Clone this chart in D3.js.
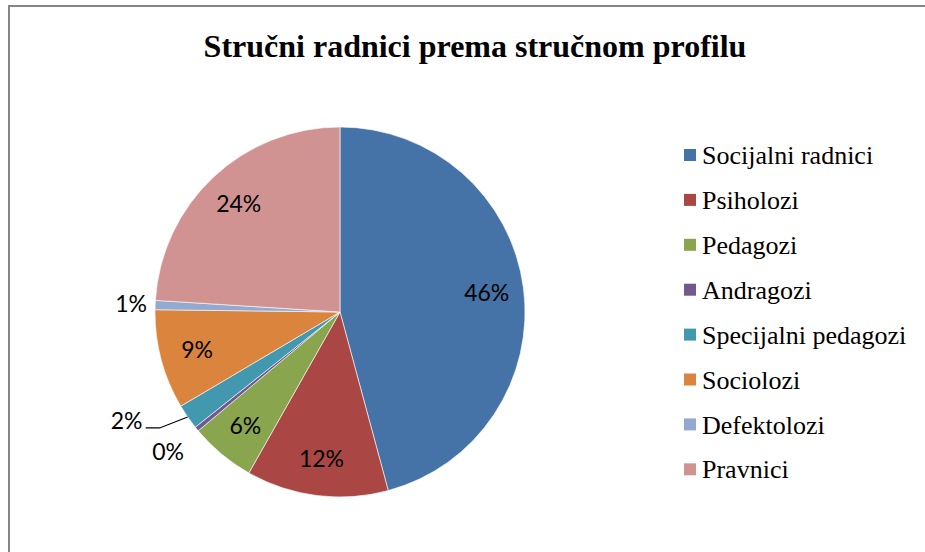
<!DOCTYPE html>
<html>
<head>
<meta charset="utf-8">
<script src="https://cdn.jsdelivr.net/npm/d3@7"></script>
<style>
  body { margin: 0; background: #fff; }
  svg { display: block; }
</style>
</head>
<body>
<div class="chart"></div>
<script>
var categories = ['Socijalni radnici', 'Psiholozi', 'Pedagozi', 'Andragozi',
  'Specijalni pedagozi', 'Sociolozi', 'Defektolozi', 'Pravnici'];
var shares = [45.8, 12.4, 5.7, 0.4, 2.2, 8.7, 0.8, 24.0];
var colors = ['#4572A7', '#AA4643', '#89A54E', '#71588F',
  '#4198AF', '#DB843D', '#93A9CF', '#D19392'];
var title = 'Stručni radnici prema stručnom profilu';

var width = 925, height = 552;
var cx = 340, cy = 312, radius = 185;

var svg = d3.select('.chart')
  .append('svg')
    .attr('width', width)
    .attr('height', height);

// chart area frame (right/bottom edges fall outside the window)
svg.append('rect')
  .attr('x', 9).attr('y', 6)
  .attr('width', 940).attr('height', 560)
  .attr('fill', 'none')
  .attr('stroke', '#868686')
  .attr('stroke-width', 2);

svg.append('text')
  .attr('x', 475)
  .attr('y', 57)
  .attr('text-anchor', 'middle')
  .style('font-family', '"Liberation Serif", "Times New Roman", serif')
  .style('font-weight', 'bold')
  .style('font-size', '32px')
  .text(title);

var total = d3.sum(shares);
var pie = d3.pie().sort(null).value(d => d);
var arcs = pie(shares);

var arc = d3.arc().innerRadius(0).outerRadius(radius);

var g = svg.append('g')
  .attr('transform', `translate(${cx}, ${cy})`);

g.selectAll('path.slice')
  .data(arcs)
  .enter()
  .append('path')
    .attr('class', 'slice')
    .attr('d', arc)
    .attr('fill', (d, i) => colors[i])
    .attr('stroke', '#fff')
    .attr('stroke-width', 0.6);

function edgePoint(d, r) {
  var a = (d.startAngle + d.endAngle) / 2;
  return [Math.sin(a) * r, -Math.cos(a) * r];
}

// label placement: big slices inside, tiny ones outside
function labelPos(d, i) {
  var frac = d.value / total;
  if (frac > 0.03) return edgePoint(d, radius * 0.8);
  if (i == 3) return edgePoint(d, radius * 1.2);
  if (i == 4) {
    // pulled out to the left with a leader line
    var p = edgePoint(d, radius);
    return [p[0] - 61, p[1] + 4];
  }
  return edgePoint(d, radius * 1.13);
}

g.selectAll('text.lbl')
  .data(arcs)
  .enter()
  .append('text')
    .attr('class', 'lbl')
    .attr('x', (d, i) => labelPos(d, i)[0])
    .attr('y', (d, i) => labelPos(d, i)[1])
    .attr('dy', '0.35em')
    .attr('text-anchor', 'middle')
    .style('font-family', 'Lato, "Open Sans", sans-serif')
    .style('font-size', '23px')
    .attr('fill', '#000')
    .text(d => Math.round(d.value / total * 100) + '%');

// leader line for the 2% slice
var sp = arcs[4];
var sp0 = labelPos(sp, 4);
var spEdge = edgePoint(sp, radius);
g.append('polyline')
  .attr('points', [
    [sp0[0] + 19, sp0[1] + 7],
    [sp0[0] + 33, sp0[1] + 7],
    spEdge
  ].map(p => p.join(',')).join(' '))
  .attr('fill', 'none')
  .attr('stroke', '#000')
  .attr('stroke-width', 1.2);

// legend
var legend = svg.append('g')
  .attr('transform', 'translate(684, 155)');

var item = legend.selectAll('g.item')
  .data(categories)
  .enter()
  .append('g')
    .attr('class', 'item')
    .attr('transform', (d, i) => `translate(0, ${i * 44.9})`);

item.append('rect')
  .attr('x', 0).attr('y', -6)
  .attr('width', 12).attr('height', 12)
  .attr('fill', (d, i) => colors[i]);

item.append('text')
  .attr('x', 18)
  .attr('y', 0)
  .attr('dy', '0.35em')
  .style('font-family', '"Liberation Serif", "Times New Roman", serif')
  .style('font-size', '26px')
  .text(d => d);
</script>
</body>
</html>
